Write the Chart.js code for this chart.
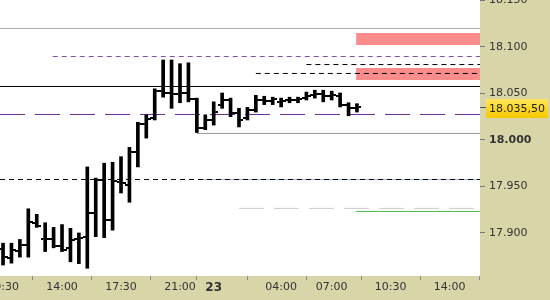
<!DOCTYPE html>
<html>
<head>
<meta charset="utf-8">
<script src="https://cdn.jsdelivr.net/npm/chart.js@4.4.0/dist/chart.umd.min.js"></script>
<style>
  html, body { margin: 0; padding: 0; background: #d8d5a8; }
  canvas { display: block; }
</style>
</head>
<body>
<canvas id="chart" width="550" height="300"></canvas>
<script>
// half-hour bars, index 0 = 10:30
const opens  = [17883, 17873, 17881, 17887, 17911, 17893, 17893, 17886, 17884, 17893, 17896, 17921, 17957, 17914, 17955, 17952, 17987, 18017, 18024, 18053, 18050, 18049, 18050, 18044, 18013, 18021.5, 18038, 18043, 18029, 18024, 18032, 18043, 18042, 18041, 18043, 18043, 18045, 18048, 18049, 18047, 18047, 18037.5, 18034.5];
const highs  = [17889, 17889, 17893, 17926, 17920, 17911, 17906, 17909, 17905, 17900, 17971, 17959, 17975, 17976, 17982, 17992, 18019, 18027, 18055, 18086, 18086, 18082, 18083, 18045, 18027, 18041, 18050.5, 18045, 18034, 18035, 18048, 18047, 18046, 18045, 18046, 18046, 18051.5, 18053.5, 18053.5, 18052.5, 18050.5, 18040, 18039];
const lows   = [17865.5, 17867.5, 17874, 17874, 17906, 17880, 17884, 17880, 17869, 17867, 17862, 17896, 17895, 17903, 17943, 17933, 17971, 18002, 18021.5, 18046, 18034, 18040, 18041, 18008, 18011, 18016, 18034, 18025, 18014, 18021.5, 18030, 18038, 18038, 18035.5, 18040, 18040, 18043, 18045, 18041, 18043, 18035.5, 18026, 18030];
const closes = [17874, 17882, 17887, 17912, 17907.5, 17894, 17886, 17882, 17892, 17895, 17921, 17957, 17914, 17956, 17954, 17987, 18017, 18023, 18053, 18050.5, 18049.5, 18050, 18044, 18013, 18021.5, 18030, 18043, 18029, 18021.5, 18032, 18043, 18042, 18044, 18042, 18043, 18044, 18047, 18049, 18047, 18048, 18037.5, 18034.5, 18035.5];

const timeTicks  = [0, 7, 14, 21, 25, 33, 39, 46, 53];
const timeLabels = ['10:30', '14:00', '17:30', '21:00', '23', '04:00', '07:00', '10:30', '14:00'];
const priceTicks = [17900, 17950, 18000, 18050, 18100, 18150];

// horizontal levels (price, first bar index where the level starts)
const levelPrices = [18119.9, 18089.7, 18081.1, 18071.5, 18057.5, 18027.4, 18007, 17957.5, 17957.5, 17926.4, 17923.1];
const levelStarts = [-0.36, 5.9, 36, 30, -0.36, -0.36, 23, -0.36, 23.4, 28, 41.9];
const zoneTops    = [18115, 18077.5];
const zoneBottoms = [18102, 18064.5];
const zoneStart   = 41.9;

const X_MIN = -0.36, X_MAX = 56.6;
const Y_MIN = 17853.7, Y_MAX = 18150.5;

const levelStyles = [
  { color: '#aaaaaa', dash: [] },
  { color: '#7b4fa5', dash: [5, 4] },
  { color: '#000000', dash: [5, 4] },
  { color: '#000000', dash: [5, 4] },
  { color: '#000000', dash: [] },
  { color: '#6b2d8f', dash: [25, 10] },
  { color: '#9a9a9a', dash: [] },
  { color: '#000000', dash: [5, 4] },
  { color: '#9fb0d0', dash: [] },
  { color: '#cccccc', dash: [25, 10] },
  { color: '#4cb84c', dash: [] }
];

const fmtPrice = (v) => {
  const int = Math.floor(v);
  const s = Math.floor(int / 1000) + '.' + String(int % 1000).padStart(3, '0');
  const frac = Math.round((v - int) * 100);
  return frac ? s + ',' + String(frac).padStart(2, '0') : s;
};

// small images for the open (left) and close (right) ticks
const makeTick = (left) => {
  const c = document.createElement('canvas');
  c.width = 9; c.height = 2;
  const g = c.getContext('2d');
  g.fillStyle = '#000';
  g.fillRect(left ? 0 : 6, 0, 3, 2);
  return c;
};

const datasets = [];

zoneTops.forEach((top, i) => {
  datasets.push({
    type: 'line',
    data: [{ x: zoneStart, y: top }, { x: X_MAX, y: top }],
    borderWidth: 0,
    backgroundColor: '#fa8c8c',
    fill: { value: zoneBottoms[i] },
    pointRadius: 0,
    order: 10
  });
});

// later levels are drawn underneath earlier ones
levelPrices.forEach((p, i) => {
  datasets.push({
    type: 'line',
    data: [{ x: levelStarts[i], y: p }, { x: X_MAX, y: p }],
    borderColor: levelStyles[i].color,
    borderDash: levelStyles[i].dash,
    borderWidth: 1,
    pointRadius: 0,
    fill: false,
    order: 5
  });
});

datasets.push({
  type: 'bar',
  data: highs.map((h, i) => ({ x: i, y: [lows[i], h] })),
  backgroundColor: '#000',
  barThickness: 3,
  order: 1
});
datasets.push({
  type: 'line',
  data: opens.map((o, i) => ({ x: i, y: o })),
  showLine: false,
  pointStyle: makeTick(true),
  pointRadius: 4,
  order: 0
});
datasets.push({
  type: 'line',
  data: closes.map((c, i) => ({ x: i, y: c })),
  showLine: false,
  pointStyle: makeTick(false),
  pointRadius: 4,
  order: 0
});

const background = {
  id: 'background',
  beforeDraw(chart) {
    const { ctx, chartArea: a } = chart;
    ctx.save();
    ctx.fillStyle = '#d8d5a8';
    ctx.fillRect(0, 0, chart.width, chart.height);
    ctx.fillStyle = '#fff';
    ctx.fillRect(a.left, a.top, a.right - a.left, a.bottom - a.top);
    ctx.restore();
  }
};

const priceTag = {
  id: 'priceTag',
  afterDraw(chart) {
    const { ctx, chartArea: a, scales: { y } } = chart;
    const last = closes[closes.length - 1];
    const py = Math.round(y.getPixelForValue(last));
    ctx.save();
    ctx.strokeStyle = '#555';
    ctx.lineWidth = 1;
    ctx.beginPath();
    ctx.moveTo(a.right, py + 0.5);
    ctx.lineTo(a.right + 6, py + 0.5);
    ctx.stroke();
    const g = ctx.createLinearGradient(0, py - 8, 0, py + 11);
    g.addColorStop(0, '#ffe55a');
    g.addColorStop(1, '#f6c800');
    ctx.fillStyle = g;
    ctx.fillRect(a.right + 6, py - 8, 62, 19);
    ctx.fillStyle = '#222';
    ctx.font = '11px "DejaVu Sans"';
    ctx.textBaseline = 'middle';
    ctx.fillText(fmtPrice(last), a.right + 9, py + 2);
    ctx.restore();
  }
};

new Chart(document.getElementById('chart'), {
  type: 'bar',
  data: { datasets },
  plugins: [background, priceTag],
  options: {
    responsive: false,
    animation: false,
    events: [],
    layout: { padding: 0, autoPadding: false },
    plugins: { legend: { display: false }, tooltip: { enabled: false } },
    scales: {
      x: {
        type: 'linear',
        position: 'bottom',
        min: X_MIN,
        max: X_MAX,
        offset: false,
        afterBuildTicks: (s) => { s.ticks = timeTicks.map(v => ({ value: v })); },
        afterFit: (s) => { s.height = 24; s.paddingLeft = 0; s.paddingRight = 0; },
        grid: { drawOnChartArea: false, tickLength: 4, color: '#888' },
        border: { display: false },
        ticks: {
          autoSkip: false,
          maxRotation: 0,
          padding: 1,
          color: '#333',
          font: (c) => c.tick && c.tick.value === 25
            ? { family: 'DejaVu Sans', size: 12, weight: 'bold' }
            : { family: 'DejaVu Sans', size: 11 },
          callback: (v) => timeLabels[timeTicks.indexOf(v)] ?? ''
        }
      },
      y: {
        type: 'linear',
        position: 'right',
        min: Y_MIN,
        max: Y_MAX,
        afterBuildTicks: (s) => { s.ticks = priceTicks.map(v => ({ value: v })); },
        afterFit: (s) => { s.width = 70; s.paddingTop = 0; s.paddingBottom = 0; },
        grid: { drawOnChartArea: false, tickLength: 5, color: '#777' },
        border: { display: false },
        ticks: {
          padding: 4,
          color: '#333',
          font: (c) => c.tick && c.tick.value === 18000
            ? { family: 'DejaVu Sans', size: 11, weight: 'bold' }
            : { family: 'DejaVu Sans', size: 11 },
          callback: (v) => fmtPrice(v)
        }
      }
    }
  }
});
</script>
</body>
</html>
